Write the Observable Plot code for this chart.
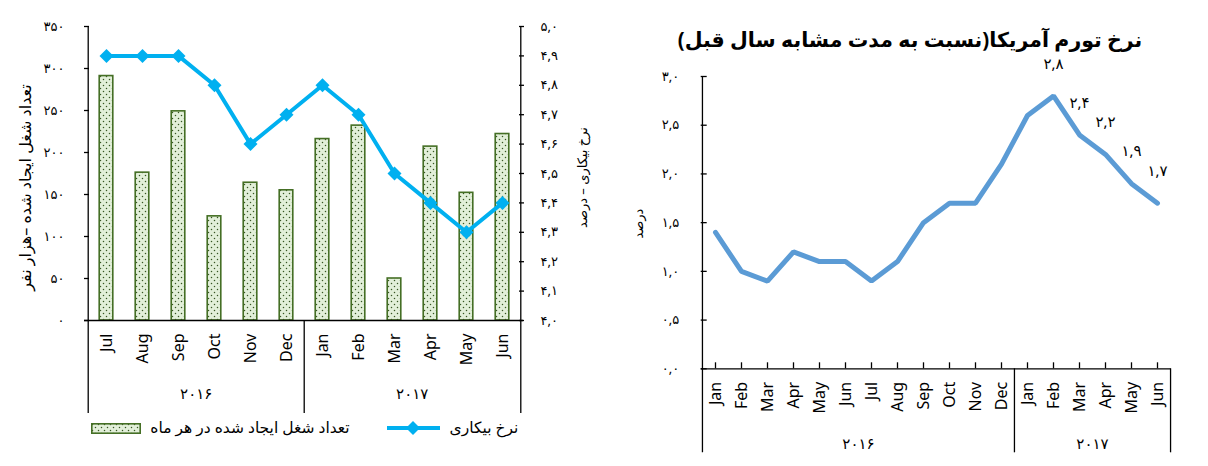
<!DOCTYPE html>
<html>
<head>
<meta charset="utf-8">
<script src="https://cdn.jsdelivr.net/npm/d3@7"></script>
<script src="https://cdn.jsdelivr.net/npm/@observablehq/plot@0.6"></script>
<style>
  html, body { margin: 0; padding: 0; background: #fff; }
  #root { position: relative; width: 1208px; height: 466px; overflow: hidden; background: #fff;
          font-family: "Noto Sans", "DejaVu Sans", sans-serif; }
  #root svg { overflow: visible; }
  .abs { position: absolute; }
</style>
</head>
<body>
<div id="root"></div>
<script>
// ---------- DATA ----------
// Left chart: US jobs created (thousand) and unemployment rate (%)
const leftMonths = ["Jul","Aug","Sep","Oct","Nov","Dec","Jan","Feb","Mar","Apr","May","Jun"];
const leftYears  = [2016,2016,2016,2016,2016,2016,2017,2017,2017,2017,2017,2017];
const jobs       = [291,176,249,124,164,155,216,232,50,207,152,222];
const unemployment = [4.9,4.9,4.9,4.8,4.6,4.7,4.8,4.7,4.5,4.4,4.3,4.4];
const jobsTicks  = [0,50,100,150,200,250,300,350];
const unempTicks = [4.0,4.1,4.2,4.3,4.4,4.5,4.6,4.7,4.8,4.9,5.0];

// Right chart: US inflation (yoy %)
const rightMonths = ["Jan","Feb","Mar","Apr","May","Jun","Jul","Aug","Sep","Oct","Nov","Dec","Jan","Feb","Mar","Apr","May","Jun"];
const rightYears  = [2016,2016,2016,2016,2016,2016,2016,2016,2016,2016,2016,2016,2017,2017,2017,2017,2017,2017];
const inflation   = [1.4,1.0,0.9,1.2,1.1,1.1,0.9,1.1,1.5,1.7,1.7,2.1,2.6,2.8,2.4,2.2,1.9,1.7];
const inflationLabeled = [false,false,false,false,false,false,false,false,false,false,false,false,false,true,true,true,true,true];
const inflTicks   = [0,0.5,1.0,1.5,2.0,2.5,3.0];

// Texts
const leftYTitle  = "تعداد شغل ایجاد شده –هزار نفر";
const rightYTitle = "نرخ بیکاری – درصد";
const legendBars  = "تعداد شغل ایجاد شده در هر ماه";
const legendLine  = "نرخ بیکاری";
const chartTitle  = "نرخ تورم آمریکا(نسبت به مدت مشابه سال قبل)";
const inflYTitle  = "درصد";

// ---------- HELPERS ----------
const fa = v => String(v).replace(/\d/g, d => "۰۱۲۳۴۵۶۷۸۹"[+d]).replace(".", ",");
const FONT = '"Noto Sans", "DejaVu Sans", sans-serif';
const root = document.getElementById("root");

// unemployment mapped onto the left (jobs) scale: 4.0 -> 0, 5.0 -> 350
const uMin = 4.0, uMax = 5.0, jMax = 350;
const u2j = u => (u - uMin) / (uMax - uMin) * jMax;

// ---------- LEFT CHART ----------
const leftData = leftMonths.map((m, i) => ({month: m, year: leftYears[i], jobs: jobs[i], u: unemployment[i]}));
const LW = 600, LH = 466, LmL = 84, LmR = 77, LmT = 26, LmB = 146;
const Lbw = (LW - LmL - LmR) / leftMonths.length;
const leftYearRows = d3.groups(leftData, d => d.year).map(([y, rows]) => ({year: fa(y), at: rows[rows.length / 2].month}));

const left = Plot.plot({
  width: LW, height: LH,
  marginLeft: LmL, marginRight: LmR, marginTop: LmT, marginBottom: LmB,
  style: {fontFamily: FONT, background: "transparent", overflow: "visible"},
  x: {type: "band", domain: leftMonths, padding: 0, axis: null},
  y: {domain: [0, jMax], axis: null},
  marks: [
    Plot.barY(leftData, {x: "month", y: "jobs", fill: "url(#dotsPat)", stroke: "#456f25", strokeWidth: 1.6, insetLeft: 11.2, insetRight: 11.2}),
    Plot.ruleY([0], {stroke: "#000", strokeWidth: 1.3}),
    Plot.ruleX([leftMonths[0]], {dx: -Lbw / 2, insetBottom: -93, stroke: "#000", strokeWidth: 1.3}),
    Plot.ruleX([leftMonths[leftMonths.length - 1]], {dx: Lbw / 2, insetBottom: -93, stroke: "#000", strokeWidth: 1.3}),
    Plot.ruleX(["Jan"], {dx: -Lbw / 2, insetTop: LH - LmT - LmB, insetBottom: -93, stroke: "#000", strokeWidth: 1.3}),
    // left axis (jobs)
    Plot.axisY(jobsTicks, {anchor: "left", tickSize: 5, dx: 5, tickFormat: () => "", strokeWidth: 1.3, label: null}),
    Plot.axisY(jobsTicks, {anchor: "left", tickSize: 0, tickPadding: 20, tickFormat: fa, fontSize: 13, label: null}),
    // right axis (unemployment)
    Plot.axisY(unempTicks.map(u2j), {anchor: "right", tickSize: 5, dx: -5, tickFormat: () => "", strokeWidth: 1.3, label: null}),
    Plot.axisY(unempTicks.map(u2j), {anchor: "right", tickSize: 0, tickPadding: 17, tickFormat: v => fa((uMin + v / jMax * (uMax - uMin)).toFixed(1)), fontSize: 13, label: null}),
    // month labels
    Plot.axisX({anchor: "bottom", tickSize: 0, tickPadding: 13, tickRotate: -90, fontSize: 16, label: null}),
    // year labels
    Plot.text(leftYearRows, {x: "at", text: "year", frameAnchor: "bottom", dx: -Lbw / 2, dy: 78, fontSize: 15}),
    // unemployment line
    Plot.line(leftData, {x: "month", y: d => u2j(d.u), stroke: "#00b0f0", strokeWidth: 4, strokeLinejoin: "miter"}),
    Plot.dot(leftData, {x: "month", y: d => u2j(d.u), symbol: "diamond2", r: 6.3, fill: "#00b0f0", stroke: "none"}),
    // axis titles
    Plot.text([leftYTitle], {frameAnchor: "left", textAnchor: "middle", dx: -59, dy: 14, rotate: -90, fontSize: 16}),
    Plot.text([rightYTitle], {frameAnchor: "right", textAnchor: "middle", dx: 59, dy: 4, rotate: -90, fontSize: 13})
  ]
});
left.classList.add("abs");
left.style.left = "0px"; left.style.top = "0px";
const defs = d3.select(left).insert("defs", ":first-child");
const pat = defs.append("pattern").attr("id", "dotsPat").attr("patternUnits", "userSpaceOnUse").attr("width", 6).attr("height", 6);
pat.append("rect").attr("width", 6).attr("height", 6).attr("fill", "#e2efd9");
pat.append("circle").attr("cx", 1.5).attr("cy", 1.5).attr("r", 0.75).attr("fill", "#375623");
pat.append("circle").attr("cx", 4.5).attr("cy", 4.5).attr("r", 0.75).attr("fill", "#375623");
root.appendChild(left);

// ---------- LEFT LEGEND ----------
const legend = document.createElement("div");
legend.innerHTML = `
  <svg class="abs" style="left:91px;top:423px" width="50" height="11">
    <rect x="0.8" y="0.8" width="48.4" height="9.4" fill="url(#dotsPat)" stroke="#456f25" stroke-width="1.6"/>
  </svg>
  <div class="abs" style="left:146px;top:416px;width:208px;text-align:center;direction:rtl;font-size:15.5px;font-family:${FONT};white-space:nowrap">${legendBars}</div>
  <svg class="abs" style="left:386px;top:420px" width="56" height="16">
    <line x1="1" y1="8" x2="54" y2="8" stroke="#00b0f0" stroke-width="4"/>
    <path d="M27,1 L34,8 L27,15 L20,8 Z" fill="#00b0f0"/>
  </svg>
  <div class="abs" style="left:444px;top:416px;width:80px;text-align:center;direction:rtl;font-size:15.5px;font-family:${FONT};white-space:nowrap">${legendLine}</div>
`;
root.appendChild(legend);

// ---------- RIGHT CHART ----------
const rightData = rightMonths.map((m, i) => ({key: rightYears[i] + "-" + m, month: m, year: rightYears[i], v: inflation[i], labeled: inflationLabeled[i]}));
const RW = 608, RH = 466, RmL = 100.7, RmR = 37.3, RmT = 76, RmB = 97.7;
const Rbw = (RW - RmL - RmR) / rightData.length;
const rightKeys = rightData.map(d => d.key);
const rightYearRows = d3.groups(rightData, d => d.year).map(([y, rows]) => ({year: fa(y), at: rows[rows.length / 2].key}));
const firstJan2017 = rightData.find(d => d.year === 2017).key;

const right = Plot.plot({
  width: RW, height: RH,
  marginLeft: RmL, marginRight: RmR, marginTop: RmT, marginBottom: RmB,
  style: {fontFamily: FONT, background: "transparent", overflow: "visible"},
  x: {type: "band", domain: rightKeys, padding: 0, axis: null},
  y: {domain: [0, 3], axis: null},
  marks: [
    Plot.ruleY([0], {stroke: "#000", strokeWidth: 1.3}),
    Plot.ruleX([rightKeys[0]], {dx: -Rbw / 2, insetBottom: -84, stroke: "#000", strokeWidth: 1.3}),
    Plot.ruleX([rightKeys[rightKeys.length - 1]], {dx: Rbw / 2, insetTop: RH - RmT - RmB, insetBottom: -84, stroke: "#000", strokeWidth: 1.3}),
    Plot.ruleX([firstJan2017], {dx: -Rbw / 2, insetTop: RH - RmT - RmB, insetBottom: -84, stroke: "#000", strokeWidth: 1.3}),
    Plot.axisY(inflTicks, {anchor: "left", tickSize: 6, dx: 6, tickFormat: () => "", strokeWidth: 1.3, label: null}),
    Plot.axisY(inflTicks, {anchor: "left", tickSize: 0, tickPadding: 22, tickFormat: v => fa(v.toFixed(1)), fontSize: 13, label: null}),
    Plot.axisX({anchor: "bottom", tickSize: 6, dy: -6, tickFormat: () => "", strokeWidth: 1.3, label: null}),
    Plot.axisX({anchor: "bottom", tickSize: 0, tickPadding: 13, tickRotate: -90, tickFormat: k => k.slice(5), fontSize: 16, label: null}),
    Plot.text(rightYearRows, {x: "at", text: "year", frameAnchor: "bottom", dx: -Rbw / 2, dy: 80, fontSize: 15}),
    Plot.line(rightData, {x: "key", y: "v", stroke: "#5b9bd5", strokeWidth: 5, strokeLinejoin: "miter"}),
    Plot.text(rightData.filter(d => d.labeled), {x: "key", y: "v", text: d => fa(d.v.toFixed(1)), dy: -32, fontSize: 15}),
    Plot.text([inflYTitle], {frameAnchor: "left", textAnchor: "middle", dx: -62.7, dy: 1, rotate: -90, fontSize: 13})
  ]
});
right.classList.add("abs");
right.style.left = "600px"; right.style.top = "0px";
root.appendChild(right);

// ---------- RIGHT TITLE ----------
const title = document.createElement("div");
title.className = "abs";
title.style.cssText = `left:660px;top:25px;width:500px;text-align:center;direction:rtl;font-weight:bold;font-size:20.5px;font-family:${FONT};white-space:nowrap;line-height:28px`;
title.textContent = chartTitle;
root.appendChild(title);
</script>
</body>
</html>
